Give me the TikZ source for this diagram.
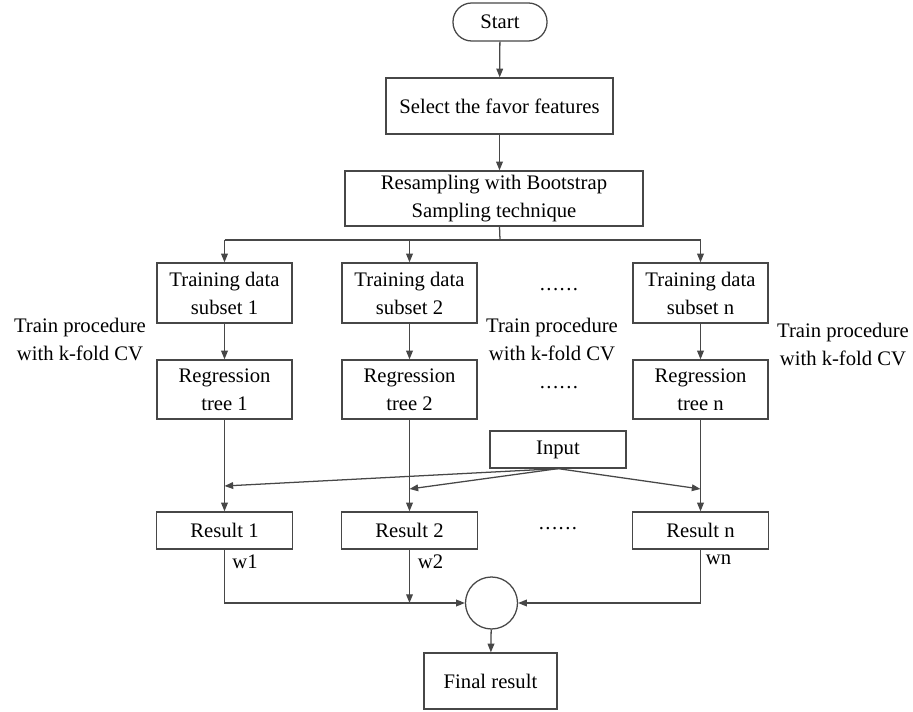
\documentclass[tikz,border=0pt]{standalone}
\usepackage{fontspec}
\setmainfont{Liberation Serif}
\usetikzlibrary{arrows.meta}
\definecolor{linegray}{HTML}{474747}
% a row of six spaced dots
\newcommand\rowdots{.\kern1.1pt.\kern1.1pt.\kern1.1pt.\kern1.1pt.\kern1.1pt.}
\begin{document}
\begin{tikzpicture}[x=0.75pt,y=-0.75pt,
  every node/.style={font=\fontsize{15.5pt}{21pt}\selectfont, text=black},
  box/.style={draw=linegray, line width=0.95pt, inner sep=0pt, align=center},
  sz/.style 2 args={minimum width=#1*0.75pt, minimum height=#2*0.75pt},
  conn/.style={draw=linegray, line width=0.95pt},
  arr/.style={conn, -{Triangle[length=6.5pt,width=5pt]}},
  lbl/.style={align=center, inner sep=0pt},
]
\useasboundingbox (0,0) rectangle (913,712);

% main chain
\node[box, rounded corners=14pt, sz={94}{38}] (start) at (500,22) {Start};
\node[box, sz={227}{56}] (select) at (499.5,106) {Select the favor features};
\node[box, sz={298}{55}] (resamp) at (494,198.5) {Resampling with Bootstrap\\Sampling technique};

% training subsets
\node[box, sz={135}{60}] (train1) at (224.5,293) {Training data\\subset 1};
\node[box, sz={135}{60}] (train2) at (409.5,293) {Training data\\subset 2};
\node[box, sz={135}{60}] (trainn) at (700.5,293) {Training data\\subset n};

% regression trees
\node[box, sz={135}{59}] (reg1) at (224.5,389.5) {Regression\\tree 1};
\node[box, sz={135}{59}] (reg2) at (409.5,389.5) {Regression\\tree 2};
\node[box, sz={135}{59}] (regn) at (700.5,389.5) {Regression\\tree n};

% results
\node[box, sz={136}{37}] (res1) at (224.5,530.5) {Result 1};
\node[box, sz={136}{37}] (res2) at (409.5,530.5) {Result 2};
\node[box, sz={136}{37}] (resn) at (700.5,530.5) {Result n};

\node[box, sz={136}{37}] (input) at (558,449.5) {Input};
\node[draw=linegray, line width=0.95pt, circle, inner sep=0pt, minimum size=52*0.75pt] (sum) at (491.5,603) {};
\node[box, sz={133}{56}] (final) at (490.5,681) {Final result};

% side labels
\node[lbl] (tp1) at (80,339) {Train procedure\\with k-fold CV};
\node[lbl] (tp2) at (552,339) {Train procedure\\with k-fold CV};
\node[lbl] (tpn) at (843,344) {Train procedure\\with k-fold CV};
\node[lbl] (dots1) at (559,290) {\rowdots};
\node[lbl] (dots2) at (559,388) {\rowdots};
\node[lbl] (dots3) at (558,529) {\rowdots};
\node[lbl] (w1) at (245,562) {w1};
\node[lbl] (w2) at (430.5,562) {w2};
\node[lbl] (wn) at (718.5,560) {wn};

% connectors
\draw[arr] (start) -- (select);
\draw[arr] (select.south) -- (select.south |- resamp.north);
\coordinate (fork) at (500,240);
\draw[conn] (select.south |- resamp.south) -- (fork);
\draw[conn] (train1.north |- fork) -- (trainn.north |- fork);
\draw[arr] (train1.north |- fork) -- (train1.north);
\draw[arr] (train2.north |- fork) -- (train2.north);
\draw[arr] (trainn.north |- fork) -- (trainn.north);

\draw[arr] (train1) -- (reg1);
\draw[arr] (train2) -- (reg2);
\draw[arr] (trainn) -- (regn);

\draw[arr] (reg1) -- (res1);
\draw[arr] (reg2) -- (res2);
\draw[arr] (regn) -- (resn);

\coordinate (in1) at (224.5,486);
\coordinate (in2) at (409.5,489);
\coordinate (inn) at (700.5,489);
\draw[arr] (input.south) -- (in1);
\draw[arr] (input.south) -- (in2);
\draw[arr] (input.south) -- (inn);

\draw[arr] (res1.south) |- (sum.west);
\draw[arr] (res2.south) -- (res2.south |- sum.west);
\draw[arr] (resn.south) |- (sum.east);
\draw[arr] (sum) -- (final);
\end{tikzpicture}
\end{document}
